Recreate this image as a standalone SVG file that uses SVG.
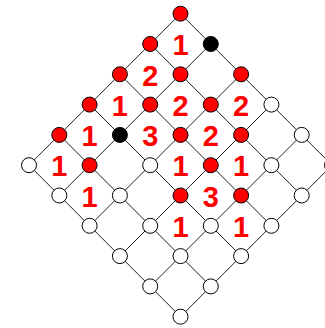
<svg xmlns="http://www.w3.org/2000/svg" width="325" height="328" viewBox="0 0 325 328">
<style>
  .e { stroke: #222; stroke-width: 1; fill: none; }
  circle { stroke: #000; stroke-width: 1; }
  .r { fill: #ff0000; }
  .k { fill: #000; }
  .w { fill: #fff; }
  text { font-family: "Liberation Sans", Arial, sans-serif; font-weight: bold; font-size: 29px; fill: #ff0000; text-anchor: middle; }
</style>
<rect width="325" height="328" fill="#fff"/>
<g id="connectors">
  <line class="e" x1="180.5" y1="13.7" x2="332" y2="165.2"/>
  <line class="e" x1="150.2" y1="44" x2="301.7" y2="195.5"/>
  <line class="e" x1="119.9" y1="74.3" x2="271.4" y2="225.8"/>
  <line class="e" x1="89.6" y1="104.6" x2="241.1" y2="256.1"/>
  <line class="e" x1="59.3" y1="134.9" x2="210.8" y2="286.4"/>
  <line class="e" x1="29" y1="165.2" x2="180.5" y2="316.7"/>
  <line class="e" x1="180.5" y1="13.7" x2="29" y2="165.2"/>
  <line class="e" x1="210.8" y1="44" x2="59.3" y2="195.5"/>
  <line class="e" x1="241.1" y1="74.3" x2="89.6" y2="225.8"/>
  <line class="e" x1="271.4" y1="104.6" x2="119.9" y2="256.1"/>
  <line class="e" x1="301.7" y1="134.9" x2="150.2" y2="286.4"/>
  <line class="e" x1="332" y1="165.2" x2="180.5" y2="316.7"/>
</g>
<g id="nodes">
  <g id="n0-0"><circle class="r" cx="180.5" cy="13.7" r="7.5"/></g>
  <g id="n1-0"><circle class="r" cx="150.2" cy="44" r="7.5"/></g>
  <g id="n0-1"><circle class="k" cx="210.8" cy="44" r="7.5"/></g>
  <g id="n2-0"><circle class="r" cx="119.9" cy="74.3" r="7.5"/></g>
  <g id="n1-1"><circle class="r" cx="180.5" cy="74.3" r="7.5"/></g>
  <g id="n0-2"><circle class="r" cx="241.1" cy="74.3" r="7.5"/></g>
  <g id="n3-0"><circle class="r" cx="89.6" cy="104.6" r="7.5"/></g>
  <g id="n2-1"><circle class="r" cx="150.2" cy="104.6" r="7.5"/></g>
  <g id="n1-2"><circle class="r" cx="210.8" cy="104.6" r="7.5"/></g>
  <g id="n0-3"><circle class="w" cx="271.4" cy="104.6" r="7.5"/></g>
  <g id="n4-0"><circle class="r" cx="59.3" cy="134.9" r="7.5"/></g>
  <g id="n3-1"><circle class="k" cx="119.9" cy="134.9" r="7.5"/></g>
  <g id="n2-2"><circle class="r" cx="180.5" cy="134.9" r="7.5"/></g>
  <g id="n1-3"><circle class="r" cx="241.1" cy="134.9" r="7.5"/></g>
  <g id="n0-4"><circle class="w" cx="301.7" cy="134.9" r="7.5"/></g>
  <g id="n5-0"><circle class="w" cx="29" cy="165.2" r="7.5"/></g>
  <g id="n4-1"><circle class="r" cx="89.6" cy="165.2" r="7.5"/></g>
  <g id="n3-2"><circle class="w" cx="150.2" cy="165.2" r="7.5"/></g>
  <g id="n2-3"><circle class="r" cx="210.8" cy="165.2" r="7.5"/></g>
  <g id="n1-4"><circle class="w" cx="271.4" cy="165.2" r="7.5"/></g>
  <g id="n0-5"><circle class="w" cx="332" cy="165.2" r="7.5"/></g>
  <g id="n5-1"><circle class="w" cx="59.3" cy="195.5" r="7.5"/></g>
  <g id="n4-2"><circle class="w" cx="119.9" cy="195.5" r="7.5"/></g>
  <g id="n3-3"><circle class="r" cx="180.5" cy="195.5" r="7.5"/></g>
  <g id="n2-4"><circle class="r" cx="241.1" cy="195.5" r="7.5"/></g>
  <g id="n1-5"><circle class="w" cx="301.7" cy="195.5" r="7.5"/></g>
  <g id="n5-2"><circle class="w" cx="89.6" cy="225.8" r="7.5"/></g>
  <g id="n4-3"><circle class="w" cx="150.2" cy="225.8" r="7.5"/></g>
  <g id="n3-4"><circle class="w" cx="210.8" cy="225.8" r="7.5"/></g>
  <g id="n2-5"><circle class="w" cx="271.4" cy="225.8" r="7.5"/></g>
  <g id="n5-3"><circle class="w" cx="119.9" cy="256.1" r="7.5"/></g>
  <g id="n4-4"><circle class="w" cx="180.5" cy="256.1" r="7.5"/></g>
  <g id="n3-5"><circle class="w" cx="241.1" cy="256.1" r="7.5"/></g>
  <g id="n5-4"><circle class="w" cx="150.2" cy="286.4" r="7.5"/></g>
  <g id="n4-5"><circle class="w" cx="210.8" cy="286.4" r="7.5"/></g>
  <g id="n5-5"><circle class="w" cx="180.5" cy="316.7" r="7.5"/></g>
</g>
<g id="labels">
  <text x="180.5" y="55.2">1</text>
  <text x="150.2" y="85.5">2</text>
  <text x="119.9" y="115.8">1</text>
  <text x="180.5" y="115.8">2</text>
  <text x="241.1" y="115.8">2</text>
  <text x="89.6" y="146.1">1</text>
  <text x="150.2" y="146.1">3</text>
  <text x="210.8" y="146.1">2</text>
  <text x="59.3" y="176.4">1</text>
  <text x="180.5" y="176.4">1</text>
  <text x="241.1" y="176.4">1</text>
  <text x="89.6" y="206.7">1</text>
  <text x="210.8" y="206.7">3</text>
  <text x="180.5" y="237">1</text>
  <text x="241.1" y="237">1</text>
</g>
</svg>
